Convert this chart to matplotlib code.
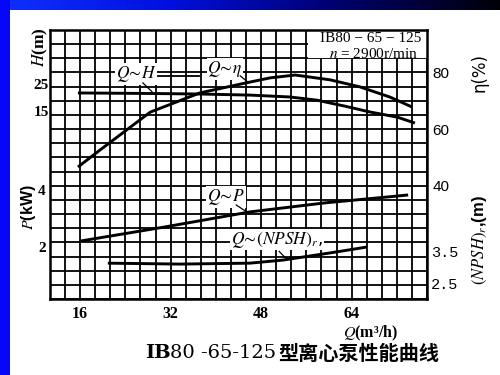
import matplotlib
matplotlib.use('Agg')
import matplotlib.pyplot as plt
import numpy as np
from matplotlib.patches import Rectangle
from matplotlib.colors import LinearSegmentedColormap

plt.rcParams['mathtext.fontset'] = 'stix'

# ---------------- data ----------------
q_eta = [15.6, 19.5, 28.4, 37.2, 46.0, 49.6, 54.0, 60.2, 65.5, 70.8, 74.7]
eta = [46.6, 52.6, 66.0, 72.8, 76.6, 78.1, 79.1, 77.4, 74.9, 71.3, 67.8]
q_h = [15.6, 28.4, 37.2, 46.0, 53.1, 57.9, 62.8, 67.3, 72.1, 75.2]
head = [21.6, 21.4, 21.2, 20.8, 20.1, 18.9, 16.7, 14.5, 12.6, 10.4]
q_p = [16.0, 31.0, 46.0, 59.3, 72.0, 74.0]
power = [2.21, 2.71, 3.24, 3.56, 3.80, 3.84]
q_npsh = [20.9, 33.7, 46.0, 51.9, 60.2, 66.7]
npsh = [3.14, 3.11, 3.14, 3.24, 3.47, 3.66]

q_ticks = [16, 32, 48, 64]
h_ticks = [15, 25]
p_ticks = [2, 4]
eta_ticks = [40, 60, 80]
npsh_ticks = [2.5, 3.5]

# ---------------- figure ----------------
W, H = 500, 375
fig = plt.figure(figsize=(5, 3.75), dpi=100)
fig.patch.set_facecolor('white')

def fx(x):
    return x / W

def fy(y):
    return 1 - y / H

# slide decoration: left blue bar and top gradient band
fig.patches.append(Rectangle((0, 0), fx(10), 1, transform=fig.transFigure,
                             facecolor='#0505f8', edgecolor='none', zorder=0))
gax = fig.add_axes([0, fy(10), 1, 10 / H])
cmap = LinearSegmentedColormap.from_list('band', ['#1030ff', '#0010e0', '#000070', '#000008'])
gax.imshow(np.linspace(0, 1, 256)[None, :], aspect='auto', cmap=cmap, extent=[0, 1, 0, 1])
gax.axis('off')

# main grid axes (efficiency scale)
ax = fig.add_axes([fx(50), fy(299), 377 / W, 269 / H])
axh = ax.twinx()
axp = ax.twinx()
axn = ax.twinx()

qmin, qmax = 10.667, 77.333
cell_q = 16 / 6
ax.set_xlim(qmin, qmax)
ax.set_ylim(0, 95)
ax.set_xticks(q_ticks)
ax.set_xticks(qmin + cell_q * np.arange(26), minor=True)
ax.set_yticks(eta_ticks)
ax.set_yticks(np.arange(0, 96, 5), minor=True)
ax.yaxis.tick_right()
ax.grid(which='both', color='black', lw=1.3)
ax.tick_params(which='both', length=0)
ax.tick_params(axis='x', pad=5)
ax.tick_params(axis='y', pad=4)
for s in ax.spines.values():
    s.set_linewidth(1.8)
    s.set_color('black')
for lab in ax.get_xticklabels():
    lab.set_fontfamily('Liberation Serif')
    lab.set_fontweight('bold')
    lab.set_fontsize(11.5)
for lab in ax.get_yticklabels():
    lab.set_fontfamily('Liberation Sans')
    lab.set_fontsize(11)

# head scale (left)
axh.set_ylim(-55, 45)
axh.yaxis.tick_left()
axh.set_yticks(h_ticks)
axh.tick_params(length=0, pad=1)
for lab in axh.get_yticklabels():
    lab.set_fontfamily('Liberation Serif')
    lab.set_fontweight('bold')
    lab.set_fontsize(11)

# power scale (left)
axp.set_ylim(0.165, 9.665)
axp.yaxis.tick_left()
axp.set_yticks(p_ticks)
axp.tick_params(length=0, pad=3)
for lab in axp.get_yticklabels():
    lab.set_fontfamily('Liberation Serif')
    lab.set_fontweight('bold')
    lab.set_fontsize(11)

# NPSH scale (right)
axn.set_ylim(1.984, 10.66)
axn.yaxis.tick_right()
axn.set_yticks(npsh_ticks)
axn.set_yticklabels([f'{v:.1f}' for v in npsh_ticks])
axn.tick_params(length=0, pad=3)
for lab in axn.get_yticklabels():
    lab.set_fontfamily('Liberation Mono')
    lab.set_fontsize(11)

for a in (axh, axp, axn):
    for s in a.spines.values():
        s.set_visible(False)
    a.patch.set_visible(False)

# white label box top right
ax.add_patch(Rectangle((56.3, 85), qmax - 56.3, 10, facecolor='white',
                       edgecolor='none', zorder=2))
ax.text(67.3, 92.0, 'IB80 − 65 − 125', ha='center', va='center', fontsize=11,
        fontfamily='Liberation Serif', zorder=4)
ax.text(67.9, 86.6, r'$n$ = 2900r/min', ha='center', va='center', fontsize=11,
        fontfamily='Liberation Serif', zorder=4)

# curves
lw = 2.1
ax.plot(q_eta, eta, color='black', lw=lw, solid_capstyle='butt', zorder=5)
axh.plot(q_h, head, color='black', lw=lw, solid_capstyle='butt')
axp.plot(q_p, power, color='black', lw=lw, solid_capstyle='butt')
axn.plot(q_npsh, npsh, color='black', lw=lw, solid_capstyle='butt')

# curve labels and leaders
lab_kw = dict(ha='center', va='center', fontsize=12.5, zorder=6,
              bbox=dict(facecolor='white', edgecolor='none', pad=0.5))
ax.text(25.9, 79.4, r'$Q\!\sim\!H$', **lab_kw)
ax.text(41.6, 81.2, r'$Q\!\sim\!\eta$', **lab_kw)
ax.plot([29.8, 37.0], [78.8, 78.8], color='black', lw=1.3, zorder=6)
ax.plot([27.1, 28.7], [76.3, 73.2], color='black', lw=0.9, zorder=6)
ax.plot([44.3, 45.8], [78.8, 76.4], color='black', lw=0.9, zorder=6)
ax.text(41.8, 36.0, r'$Q\!\sim\!P$', **lab_kw)
ax.plot([43.6, 45.5], [33.2, 30.7], color='black', lw=0.9, zorder=6)
ax.text(50.8, 21.0, r'$Q\!\sim\!(NPSH)_r$,', **lab_kw)
ax.plot([51.2, 52.6], [16.8, 13.9], color='black', lw=0.9, zorder=6)

# axis titles
fig.text(fx(40), fy(47), r'$H$(m)', rotation=90, ha='center', va='center',
         fontsize=12.5, fontfamily='Liberation Serif', fontweight='bold')
fig.text(fx(28), fy(207), r'$P$(kW)', rotation=90, ha='center', va='center',
         fontsize=11.5, fontfamily='Liberation Sans', fontweight='bold')
fig.text(fx(480), fy(72), 'η(%)', rotation=90, ha='center', va='center',
         fontsize=12, fontfamily='DejaVu Sans')
fig.text(fx(480), fy(240), r'$(NPSH)_r$,(m)', rotation=90, ha='center', va='center',
         fontsize=12, fontfamily='Liberation Sans', fontweight='bold')
fig.text(fx(343), fy(333), r'$Q$(m³/h)', ha='left', va='center',
         fontsize=11.5, fontfamily='Liberation Serif', fontweight='bold')

# caption
ty = fy(353)
fig.text(fx(145), ty, 'IB', ha='left', va='center', fontsize=14,
         fontfamily='DejaVu Serif', fontweight='bold')
fig.text(fx(170), ty, '80 -65-125', ha='left', va='center', fontsize=14,
         fontfamily='DejaVu Serif')
fig.text(fx(278), ty, '型离心泵性能曲线', ha='left', va='center', fontsize=14.5,
         fontfamily='Noto Sans CJK SC', fontweight='bold')

fig.savefig('out.png', dpi=100)
